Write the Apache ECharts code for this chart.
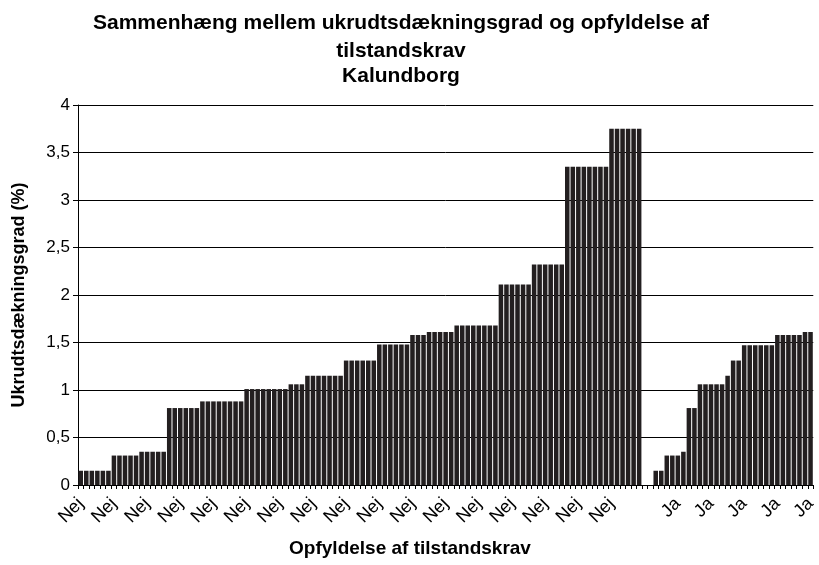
<!DOCTYPE html>
<html>
<head>
<meta charset="utf-8">
<script src="https://cdn.jsdelivr.net/npm/echarts@6/dist/echarts.min.js"></script>
<style>
html,body{margin:0;padding:0;background:#fff;}
#c{width:819px;height:565px;}
</style>
</head>
<body>
<div id="c"></div>
<script>
// Categories (x axis): 102 "Nej", 2 empty, 29 "Ja"
const categories = [
 "Nej","Nej","Nej","Nej","Nej","Nej","Nej","Nej","Nej","Nej",
 "Nej","Nej","Nej","Nej","Nej","Nej","Nej","Nej","Nej","Nej",
 "Nej","Nej","Nej","Nej","Nej","Nej","Nej","Nej","Nej","Nej",
 "Nej","Nej","Nej","Nej","Nej","Nej","Nej","Nej","Nej","Nej",
 "Nej","Nej","Nej","Nej","Nej","Nej","Nej","Nej","Nej","Nej",
 "Nej","Nej","Nej","Nej","Nej","Nej","Nej","Nej","Nej","Nej",
 "Nej","Nej","Nej","Nej","Nej","Nej","Nej","Nej","Nej","Nej",
 "Nej","Nej","Nej","Nej","Nej","Nej","Nej","Nej","Nej","Nej",
 "Nej","Nej","Nej","Nej","Nej","Nej","Nej","Nej","Nej","Nej",
 "Nej","Nej","Nej","Nej","Nej","Nej","Nej","Nej","Nej","Nej",
 "Nej","Nej",
 "","",
 "Ja","Ja","Ja","Ja","Ja","Ja","Ja","Ja","Ja","Ja",
 "Ja","Ja","Ja","Ja","Ja","Ja","Ja","Ja","Ja","Ja",
 "Ja","Ja","Ja","Ja","Ja","Ja","Ja","Ja","Ja"
];

// Ukrudtsdækningsgrad (%) for "Nej"
const nejValues = [
 0.15,0.15,0.15,0.15,0.15,0.15,
 0.31,0.31,0.31,0.31,0.31,
 0.35,0.35,0.35,0.35,0.35,
 0.81,0.81,0.81,0.81,0.81,0.81,
 0.88,0.88,0.88,0.88,0.88,0.88,0.88,0.88,
 1.01,1.01,1.01,1.01,1.01,1.01,1.01,1.01,
 1.06,1.06,1.06,
 1.15,1.15,1.15,1.15,1.15,1.15,1.15,
 1.31,1.31,1.31,1.31,1.31,1.31,
 1.48,1.48,1.48,1.48,1.48,1.48,
 1.58,1.58,1.58,
 1.61,1.61,1.61,1.61,1.61,
 1.68,1.68,1.68,1.68,1.68,1.68,1.68,1.68,
 2.11,2.11,2.11,2.11,2.11,2.11,
 2.32,2.32,2.32,2.32,2.32,2.32,
 3.35,3.35,3.35,3.35,3.35,3.35,3.35,3.35,
 3.75,3.75,3.75,3.75,3.75,3.75
];
// empty categories between groups
const gapValues = [null, null];
// Ukrudtsdækningsgrad (%) for "Ja"
const jaValues = [
 0.15,0.15,
 0.31,0.31,0.31,
 0.35,
 0.81,0.81,
 1.06,1.06,1.06,1.06,1.06,
 1.15,
 1.31,1.31,
 1.47,1.47,1.47,1.47,1.47,1.47,
 1.58,1.58,1.58,1.58,1.58,
 1.61,1.61
];

const titleLines = ['Sammenhæng mellem ukrudtsdækningsgrad og opfyldelse af', 'tilstandskrav', 'Kalundborg'];
const xAxisName = 'Opfyldelse af tilstandskrav';
const yAxisName = 'Ukrudtsdækningsgrad (%)';
const yTicks = { min: 0, max: 4, interval: 0.5 };

const values = nejValues.concat(gapValues, jaValues);

const chart = echarts.init(document.getElementById('c'), null, {renderer: 'canvas'});
const font = '"Liberation Sans", Arial, sans-serif';
const titleTop = [13, 41, 66];
chart.setOption({
  animation: false,
  backgroundColor: '#ffffff',
  graphic: titleLines.map((t, i) => ({
    type: 'text', x: 401, y: titleTop[i],
    style: {text: t, font: 'bold 21px ' + font, fill: '#000', textAlign: 'center', textVerticalAlign: 'top'}
  })).concat([{
    type: 'text', x: 410, y: 539,
    style: {text: xAxisName, font: 'bold 19px ' + font, fill: '#000', textAlign: 'center', textVerticalAlign: 'top'}
  }]),
  grid: {left: 78, right: 2, top: 105, bottom: 80, containLabel: false},
  xAxis: {
    type: 'category',
    data: categories,
    axisLine: {show: true, lineStyle: {color: '#000', width: 1}},
    axisTick: {show: true, interval: 0, length: 4, lineStyle: {color: '#000'}},
    axisLabel: {interval: 5, rotate: 45, margin: 16, fontFamily: font, fontSize: 18, color: '#000'},
    splitLine: {show: false}
  },
  yAxis: {
    type: 'value',
    min: yTicks.min, max: yTicks.max, interval: yTicks.interval,
    name: yAxisName,
    nameLocation: 'middle',
    nameGap: 50,
    nameRotate: 90,
    nameTextStyle: {fontFamily: font, fontSize: 18, fontWeight: 'bold', color: '#000'},
    axisLine: {show: true, lineStyle: {color: '#000', width: 1}},
    axisTick: {show: true, length: 5, lineStyle: {color: '#000'}},
    axisLabel: {
      fontFamily: font, fontSize: 17, color: '#000', margin: 8,
      formatter: v => String(v).replace('.', ',')
    },
    splitLine: {show: true, lineStyle: {color: '#000', width: 1}}
  },
  series: [{
    type: 'bar',
    data: values,
    barCategoryGap: '18%',
    itemStyle: {color: '#231f20'}
  }]
});
</script>
</body>
</html>
